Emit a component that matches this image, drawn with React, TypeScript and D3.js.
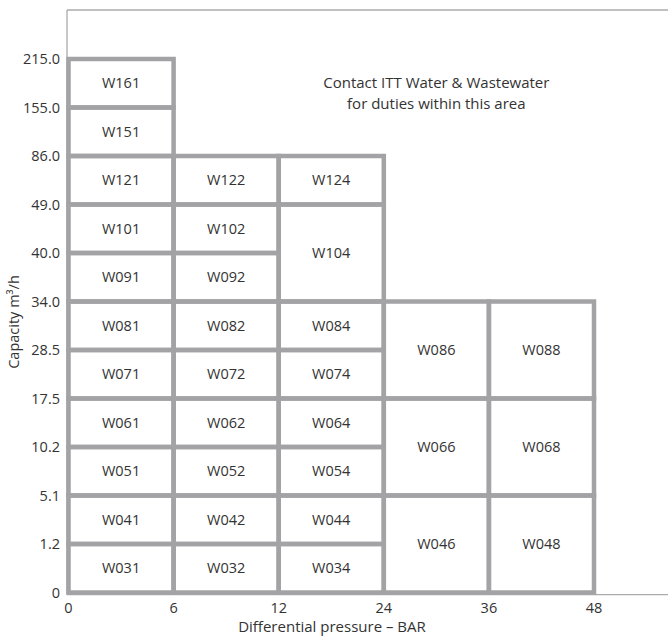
import * as d3 from "d3";

// pump model selection grid: pressure bands across, capacity bands up
const pressureTicks = [0, 6, 12, 24, 36, 48];
const capacityTicks = [0, 1.2, 5.1, 10.2, 17.5, 28.5, 34.0, 40.0, 49.0, 86.0, 155.0, 215.0];

// each model: [label, pressure from, pressure to, capacity from, capacity to]
const models: [string, number, number, number, number][] = [
  ["W161", 0, 6, 155.0, 215.0],
  ["W151", 0, 6, 86.0, 155.0],
  ["W121", 0, 6, 49.0, 86.0],
  ["W122", 6, 12, 49.0, 86.0],
  ["W124", 12, 24, 49.0, 86.0],
  ["W101", 0, 6, 40.0, 49.0],
  ["W102", 6, 12, 40.0, 49.0],
  ["W104", 12, 24, 34.0, 49.0],
  ["W091", 0, 6, 34.0, 40.0],
  ["W092", 6, 12, 34.0, 40.0],
  ["W081", 0, 6, 28.5, 34.0],
  ["W082", 6, 12, 28.5, 34.0],
  ["W084", 12, 24, 28.5, 34.0],
  ["W086", 24, 36, 17.5, 34.0],
  ["W088", 36, 48, 17.5, 34.0],
  ["W071", 0, 6, 17.5, 28.5],
  ["W072", 6, 12, 17.5, 28.5],
  ["W074", 12, 24, 17.5, 28.5],
  ["W061", 0, 6, 10.2, 17.5],
  ["W062", 6, 12, 10.2, 17.5],
  ["W064", 12, 24, 10.2, 17.5],
  ["W066", 24, 36, 5.1, 17.5],
  ["W068", 36, 48, 5.1, 17.5],
  ["W051", 0, 6, 5.1, 10.2],
  ["W052", 6, 12, 5.1, 10.2],
  ["W054", 12, 24, 5.1, 10.2],
  ["W041", 0, 6, 1.2, 5.1],
  ["W042", 6, 12, 1.2, 5.1],
  ["W044", 12, 24, 1.2, 5.1],
  ["W046", 24, 36, 0, 5.1],
  ["W048", 36, 48, 0, 5.1],
  ["W031", 0, 6, 0, 1.2],
  ["W032", 6, 12, 0, 1.2],
  ["W034", 12, 24, 0, 1.2],
];

const noteLines = ["Contact ITT Water & Wastewater", "for duties within this area"];

const W = 668;
const H = 638;
const GRID = "#a3a3a5";
const FRAME = "#ababab";
const INK = "#333";
const FONT = "'Open Sans', 'Noto Sans', sans-serif";

export default function App() {
  const x = d3.scalePoint<number>().domain(pressureTicks).range([68.5, 594]);
  const y = d3.scalePoint<number>().domain(capacityTicks).range([592.5, 59]);
  const fmt = (v: number) => (v === 0 ? "0" : d3.format(".1f")(v));

  const noteX = ((x(24) as number) + (x(36) as number)) / 2;
  const noteY = ((y(215.0) as number) + (y(155.0) as number)) / 2;

  return (
    <svg width={W} height={H} style={{ position: "absolute", left: 0, top: 0, fontFamily: FONT }}>
      {/* plot frame: top, left and bottom hairlines */}
      <line x1={67} x2={W} y1={10} y2={10} stroke={FRAME} strokeWidth={1.3} />
      <line x1={67} x2={67} y1={10} y2={594.7} stroke={FRAME} strokeWidth={1.3} />
      <line x1={67} x2={W} y1={594.7} y2={594.7} stroke={FRAME} strokeWidth={1.3} />

      {/* model cells */}
      {models.map(([label, p0, p1, c0, c1]) => {
        const x0 = x(p0) as number;
        const x1 = x(p1) as number;
        const y0 = y(c1) as number;
        const y1 = y(c0) as number;
        return (
          <g key={label}>
            <rect x={x0} y={y0} width={x1 - x0} height={y1 - y0} fill="none" stroke={GRID} strokeWidth={4.5} />
            <text x={(x0 + x1) / 2} y={(y0 + y1) / 2} dy="0.36em" textAnchor="middle" fontSize={14.5} fill={INK}>
              {label}
            </text>
          </g>
        );
      })}

      {/* capacity ticks */}
      {capacityTicks.map((c) => (
        <text key={c} x={60} y={y(c) as number} dy="0.36em" textAnchor="end" fontSize={14.5} fill={INK}>
          {fmt(c)}
        </text>
      ))}
      {/* pressure ticks */}
      {pressureTicks.map((p) => (
        <text key={p} x={x(p) as number} y={613} textAnchor="middle" fontSize={14.5} fill={INK}>
          {p}
        </text>
      ))}

      <text x={332} y={632} textAnchor="middle" fontSize={15} fill={INK}>
        Differential pressure – BAR
      </text>
      <text transform="translate(19,322) rotate(-90)" textAnchor="middle" fontSize={14.5} fill={INK}>
        Capacity m³/h
      </text>

      {noteLines.map((t, i) => (
        <text key={t} x={noteX} y={noteY + 5 + i * 20.5} textAnchor="middle" fontSize={15} fill={INK}>
          {t}
        </text>
      ))}
    </svg>
  );
}
